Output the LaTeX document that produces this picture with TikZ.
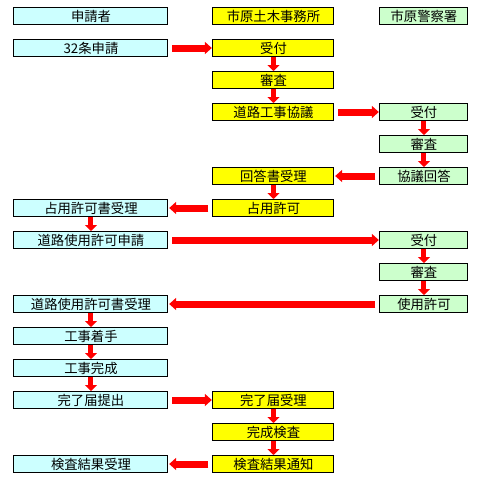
\documentclass[tikz,border=0pt]{standalone}
\usepackage{fontspec}
\setmainfont{Noto Sans CJK JP}
\usetikzlibrary{arrows.meta}
\definecolor{lcyan}{HTML}{CCFFFF}
\definecolor{lgreen}{HTML}{CCFFCC}
\definecolor{yel}{HTML}{FFFF00}
\definecolor{ared}{HTML}{FF0000}
\begin{document}
\begin{tikzpicture}[x=0.75pt,y=-0.75pt,
  box/.style={draw=black,line width=0.75pt,minimum height=12.75pt,inner sep=0pt,
    font=\fontsize{10pt}{10pt}\selectfont},
  lbox/.style={box,fill=lcyan,minimum width=115.5pt},
  mbox/.style={box,fill=yel,minimum width=90.75pt},
  rbox/.style={box,fill=lgreen,minimum width=66pt},
  harrow/.style={draw=ared,line width=5.25pt,-{Triangle[length=5.25pt,width=9pt,fill=ared]},
    shorten <=3pt, shorten >=0.5pt},
  varrow/.style={draw=ared,line width=3.75pt,-{Triangle[length=4.5pt,width=9pt,fill=ared]}}
]
\useasboundingbox (0,0) rectangle (480,480);
\def\L{91}\def\M{273.5}\def\R{424}
% headers
\node[lbox] (h1) at (\L,16) {申請者};
\node[mbox] (h2) at (\M,16) {市原土木事務所};
\node[rbox] (h3) at (\R,16) {市原警察署};
% rows
\node[lbox] (a1) at (\L,48) {32条申請};
\node[mbox] (b1) at (\M,48) {受付};
\node[mbox] (b2) at (\M,80) {審査};
\node[mbox] (b3) at (\M,112) {道路工事協議};
\node[rbox] (c3) at (\R,112) {受付};
\node[rbox] (c4) at (\R,144) {審査};
\node[rbox] (c5) at (\R,176) {協議回答};
\node[mbox] (b5) at (\M,176) {回答書受理};
\node[mbox] (b6) at (\M,208) {占用許可};
\node[lbox] (a6) at (\L,208) {占用許可書受理};
\node[lbox] (a7) at (\L,240) {道路使用許可申請};
\node[rbox] (c7) at (\R,240) {受付};
\node[rbox] (c8) at (\R,272) {審査};
\node[rbox] (c9) at (\R,304) {使用許可};
\node[lbox] (a9) at (\L,304) {道路使用許可書受理};
\node[lbox] (a10) at (\L,336) {工事着手};
\node[lbox] (a11) at (\L,368) {工事完成};
\node[lbox] (a12) at (\L,400) {完了届提出};
\node[mbox] (b12) at (\M,400) {完了届受理};
\node[mbox] (b13) at (\M,432) {完成検査};
\node[mbox] (b14) at (\M,464) {検査結果通知};
\node[lbox] (a14) at (\L,464) {検査結果受理};
% horizontal arrows
\draw[harrow] (a1) -- (b1);
\draw[harrow] (b3) -- (c3);
\draw[harrow] (c5) -- (b5);
\draw[harrow] (b6) -- (a6);
\draw[harrow] (a7) -- (c7);
\draw[harrow] (c9) -- (a9);
\draw[harrow] (a12) -- (b12);
\draw[harrow] (b14) -- (a14);
% vertical arrows
\draw[varrow] (b1) -- (b2);
\draw[varrow] (b2) -- (b3);
\draw[varrow] (c3) -- (c4);
\draw[varrow] (c4) -- (c5);
\draw[varrow] (b5) -- (b6);
\draw[varrow] (a6) -- (a7);
\draw[varrow] (c7) -- (c8);
\draw[varrow] (c8) -- (c9);
\draw[varrow] (a9) -- (a10);
\draw[varrow] (a10) -- (a11);
\draw[varrow] (a11) -- (a12);
\draw[varrow] (b12) -- (b13);
\draw[varrow] (b13) -- (b14);
\end{tikzpicture}
\end{document}
